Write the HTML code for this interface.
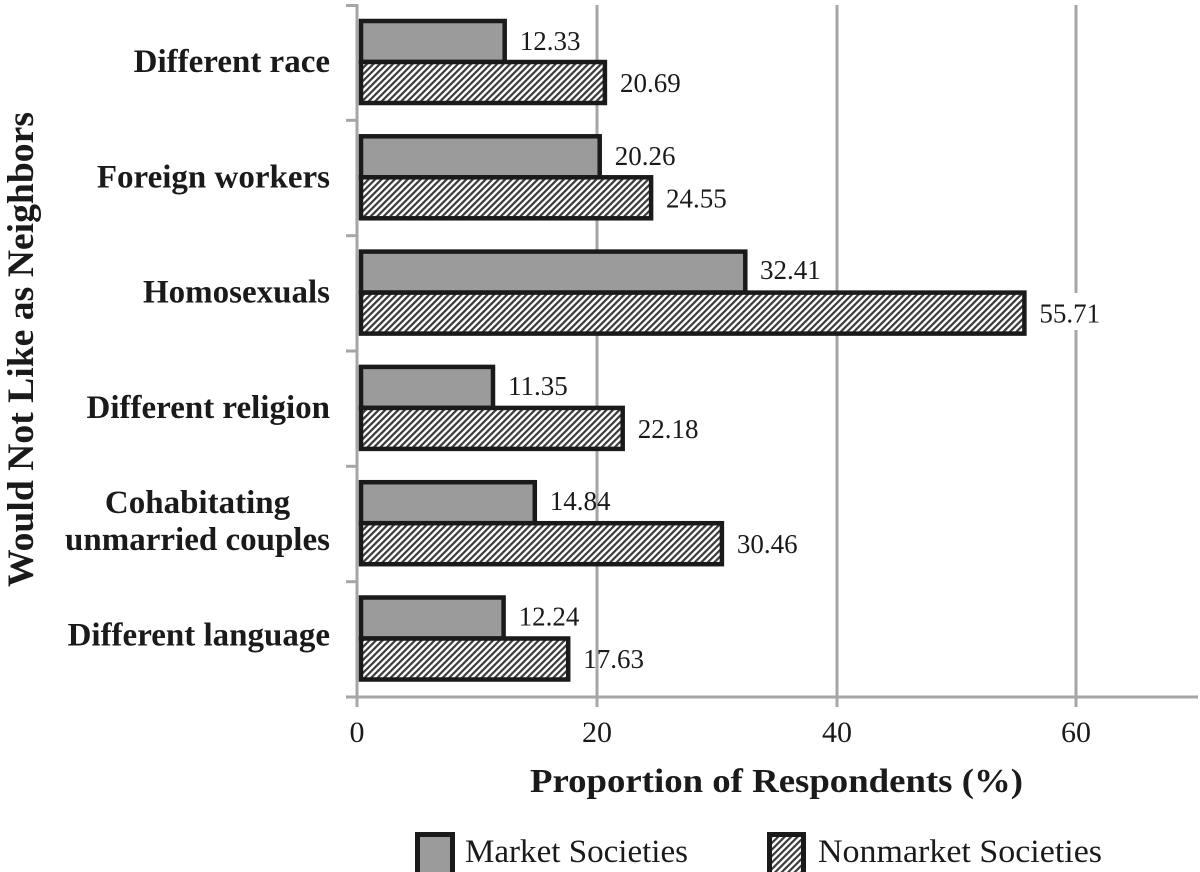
<!DOCTYPE html>
<html>
<head>
<meta charset="utf-8">
<style>
  html,body{margin:0;padding:0;background:#fff;}
  svg{display:block;}
  .cat{font-family:"Liberation Serif",serif;font-weight:bold;font-size:33px;fill:#1a1a1a;}
  .val{font-family:"Liberation Serif",serif;font-size:27px;fill:#1a1a1a;}
  .tick{font-family:"Liberation Serif",serif;font-size:30px;fill:#1a1a1a;}
  .ttl{font-family:"Liberation Serif",serif;font-weight:bold;fill:#1a1a1a;}
  .leg{font-family:"Liberation Serif",serif;font-size:33px;fill:#1a1a1a;}
</style>
</head>
<body>
<svg width="1200" height="872" viewBox="0 0 1200 872" xmlns="http://www.w3.org/2000/svg">
  <defs>
    <pattern id="h" width="4.6" height="10" patternUnits="userSpaceOnUse" patternTransform="rotate(45)">
      <rect width="4.6" height="10" fill="#ffffff"/>
      <rect width="2.2" height="10" fill="#3a3a3a"/>
    </pattern>
  </defs>
  <rect width="1200" height="872" fill="#fff"/>

  <!-- gridlines -->
  <g stroke="#a6a6a6" stroke-width="3">
    <line x1="597" y1="5" x2="597" y2="697"/>
    <line x1="837" y1="5" x2="837" y2="697"/>
    <line x1="1076" y1="5" x2="1076" y2="697"/>
  </g>

  <!-- axes -->
  <g stroke="#a6a6a6" stroke-width="3">
    <line x1="357" y1="4" x2="357" y2="698"/>
    <line x1="346" y1="697" x2="1198" y2="697"/>
    <line x1="346" y1="5.5" x2="357" y2="5.5"/>
    <line x1="346" y1="120.3" x2="357" y2="120.3"/>
    <line x1="346" y1="235.7" x2="357" y2="235.7"/>
    <line x1="346" y1="351" x2="357" y2="351"/>
    <line x1="346" y1="466.3" x2="357" y2="466.3"/>
    <line x1="346" y1="581.7" x2="357" y2="581.7"/>
    <line x1="357" y1="697" x2="357" y2="707"/>
    <line x1="597" y1="697" x2="597" y2="707"/>
    <line x1="837" y1="697" x2="837" y2="707"/>
    <line x1="1076" y1="697" x2="1076" y2="707"/>
  </g>

  <!-- bars -->
  <g stroke="#1a1a1a" stroke-width="4.5">
    <!-- Different race c=62 -->
    <rect x="361" y="21" width="143.7" height="41" fill="#9b9b9b"/>
    <rect x="361" y="62" width="243.9" height="41" fill="url(#h)"/>
    <!-- Foreign workers c=177.3 -->
    <rect x="361" y="136.3" width="238.7" height="41" fill="#9b9b9b"/>
    <rect x="361" y="177.3" width="290.1" height="41" fill="url(#h)"/>
    <!-- Homosexuals c=292.6 -->
    <rect x="361" y="251.6" width="384.3" height="41" fill="#9b9b9b"/>
    <rect x="361" y="292.6" width="663.4" height="41" fill="url(#h)"/>
    <!-- Different religion c=407.9 -->
    <rect x="361" y="366.9" width="132" height="41" fill="#9b9b9b"/>
    <rect x="361" y="407.9" width="261.7" height="41" fill="url(#h)"/>
    <!-- Cohabitating c=523.2 -->
    <rect x="361" y="482.2" width="173.8" height="41" fill="#9b9b9b"/>
    <rect x="361" y="523.2" width="360.9" height="41" fill="url(#h)"/>
    <!-- Different language c=638.5 -->
    <rect x="361" y="597.5" width="142.6" height="41" fill="#9b9b9b"/>
    <rect x="361" y="638.5" width="207.2" height="41" fill="url(#h)"/>
  </g>

  <!-- value label backgrounds -->
  <g fill="#fff">
    <rect x="1036" y="293" width="68" height="37"/>
  </g>

  <!-- value labels -->
  <g class="val">
    <text x="519.7" y="50">12.33</text>
    <text x="620" y="92">20.69</text>
    <text x="614.7" y="165">20.26</text>
    <text x="666" y="207.5">24.55</text>
    <text x="760" y="279">32.41</text>
    <text x="1039.4" y="322.5">55.71</text>
    <text x="508" y="395">11.35</text>
    <text x="637.7" y="438">22.18</text>
    <text x="549.8" y="510">14.84</text>
    <text x="736.9" y="553">30.46</text>
    <text x="518.6" y="625.5">12.24</text>
    <text x="583.2" y="668">17.63</text>
  </g>

  <!-- category labels -->
  <g class="cat" text-anchor="end">
    <text x="330" y="72">Different race</text>
    <text x="330" y="187.5">Foreign workers</text>
    <text x="330" y="302.5">Homosexuals</text>
    <text x="330" y="418">Different religion</text>
    <text x="330" y="645.5">Different language</text>
  </g>
  <g class="cat" text-anchor="middle">
    <text x="197.5" y="513">Cohabitating</text>
    <text x="197.5" y="550">unmarried couples</text>
  </g>

  <!-- y axis title -->
  <text class="ttl" font-size="37" text-anchor="middle" transform="translate(33,349.5) rotate(-90)" textLength="475" lengthAdjust="spacingAndGlyphs">Would Not Like as Neighbors</text>

  <!-- tick labels -->
  <g class="tick" text-anchor="middle">
    <text x="357" y="742">0</text>
    <text x="597" y="742">20</text>
    <text x="837" y="742">40</text>
    <text x="1076" y="742">60</text>
  </g>

  <!-- x axis title -->
  <text class="ttl" font-size="34" x="530" y="792" textLength="493" lengthAdjust="spacingAndGlyphs">Proportion of Respondents (%)</text>

  <!-- legend -->
  <rect x="417.5" y="834.5" width="35" height="40" fill="#9b9b9b" stroke="#1a1a1a" stroke-width="5"/>
  <text class="leg" x="465" y="862" textLength="223" lengthAdjust="spacingAndGlyphs">Market Societies</text>
  <rect x="769.5" y="834.5" width="34" height="40" fill="url(#h)" stroke="#1a1a1a" stroke-width="5"/>
  <text class="leg" x="818" y="862" textLength="284" lengthAdjust="spacingAndGlyphs">Nonmarket Societies</text>
</svg>
</body>
</html>
